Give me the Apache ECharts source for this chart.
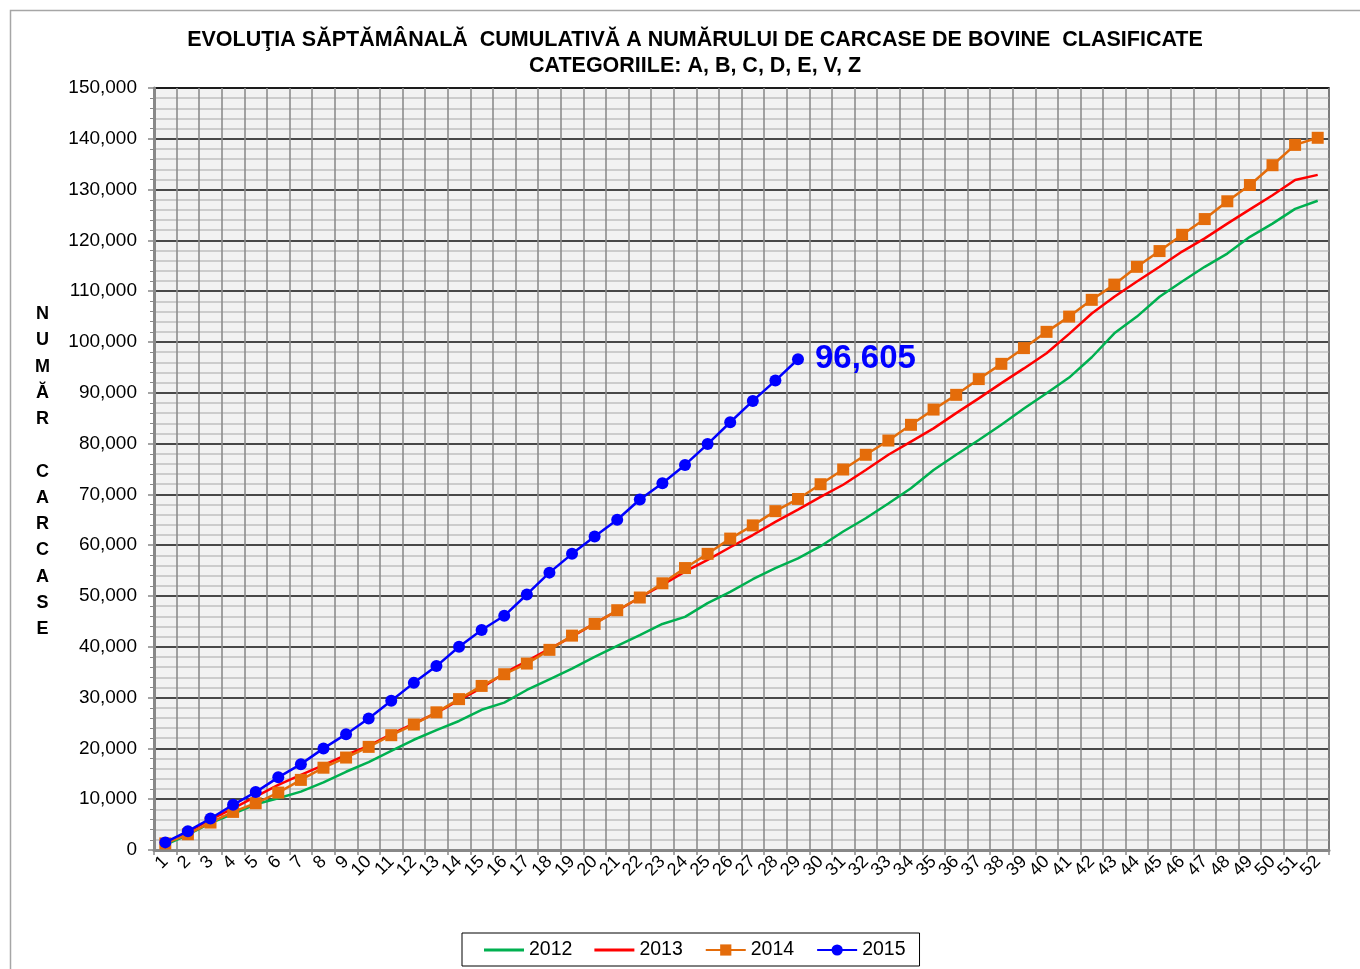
<!DOCTYPE html>
<html>
<head>
<meta charset="utf-8">
<script src="https://cdn.jsdelivr.net/npm/echarts@6/dist/echarts.min.js"></script>
<style>
  html, body { margin: 0; padding: 0; background: #ffffff; }
  #chart { width: 1360px; height: 969px; }
</style>
</head>
<body>
<div id="chart"></div>
<script>
// saptamani 1..52
var saptamani = [];
for (var s = 1; s <= 52; s++) saptamani.push(String(s));

var ani = ['2012', '2013', '2014', '2015'];

var date2012 = [1000, 3000, 5300, 7100, 9000, 10200, 11500, 13300, 15400, 17300,
  19500, 21700, 23600, 25400, 27600, 29000, 31500, 33600, 35700, 38000,
  40200, 42300, 44500, 45900, 48600, 50800, 53300, 55500, 57400, 59800,
  62700, 65300, 68200, 71200, 74800, 77800, 80700, 83700, 86900, 89900,
  93000, 97000, 101700, 105000, 108900, 111900, 114800, 117400, 120700, 123300,
  126200, 127800];

var date2013 = [1300, 3500, 6000, 8200, 10500, 12800, 14800, 16700, 18700, 20500,
  22800, 24900, 27000, 29500, 31900, 34800, 37200, 39600, 42000, 44600,
  47100, 49700, 52200, 54800, 57100, 59600, 62000, 64600, 67000, 69500,
  71900, 74800, 77800, 80400, 83000, 86000, 88900, 91900, 94800, 97800,
  101600, 105600, 108900, 111900, 114800, 117800, 120400, 123300, 126100, 128900,
  131900, 132900];

var date2014 = [1300, 3100, 5400, 7500, 9200, 11300, 13800, 16200, 18200, 20300,
  22600, 24700, 27100, 29700, 32300, 34600, 36700, 39400, 42200, 44500,
  47200, 49700, 52500, 55500, 58300, 61300, 63900, 66700, 69100, 72000,
  74900, 77800, 80600, 83700, 86700, 89600, 92700, 95700, 98800, 102000,
  105000, 108300, 111300, 114800, 117900, 121100, 124200, 127700, 130900, 134800,
  138800, 140200];

var date2015 = [1500, 3700, 6200, 8900, 11400, 14300, 16900, 20000, 22800, 25900,
  29400, 32900, 36200, 40000, 43300, 46100, 50300, 54600, 58300, 61700,
  65000, 69000, 72200, 75800, 79900, 84200, 88400, 92400, 96605];

var culori = ['#00b050', '#ff0000', '#e46c0a', '#0000ff'];

var FONT = 'Liberation Sans, Arial, sans-serif';

function formatNr(v) {
  return String(v).replace(/\B(?=(\d{3})+(?!\d))/g, ',');
}

// ultima valoare 2015 cu eticheta
var serie2015 = date2015.map(function (v, i) {
  if (i === date2015.length - 1) {
    return {
      value: v,
      label: {
        show: true,
        position: 'right',
        distance: 11,
        formatter: function (p) { return formatNr(p.value); },
        color: '#0000ff',
        fontSize: 33,
        fontWeight: 'bold',
        fontFamily: FONT
      }
    };
  }
  return v;
});

var titluAx = 'NUMĂR CARCASE'.split('').join('\n');

// iconita doar linie pentru seriile fara marcaje
var iconLinie = 'path://M0,0 L40,0 L40,3 L0,3 Z';

var chart = echarts.init(document.getElementById('chart'));

chart.setOption({
  backgroundColor: '#ffffff',
  animation: false,
  textStyle: { fontFamily: FONT },
  title: {
    text: 'EVOLUŢIA SĂPTĂMÂNALĂ  CUMULATIVĂ A NUMĂRULUI DE CARCASE DE BOVINE  CLASIFICATE\nCATEGORIILE: A, B, C, D, E, V, Z',
    left: 690,
    textAlign: 'center',
    top: 22,
    textStyle: {
      fontSize: 21.5,
      fontWeight: 'bold',
      color: '#000',
      lineHeight: 26,
      fontFamily: FONT
    }
  },
  graphic: [
    {
      type: 'rect',
      shape: { x: 10.5, y: 10.5, width: 1400, height: 1000 },
      style: { fill: 'none', stroke: '#a6a6a6', lineWidth: 1.5 },
      silent: true
    },
    {
      type: 'text',
      left: 35,
      top: 301,
      style: {
        text: titluAx,
        font: 'bold 18px Liberation Sans, Arial, sans-serif',
        lineHeight: 26.25,
        fill: '#000',
        textAlign: 'center'
      }
    }
  ],
  legend: {
    data: [
      { name: '2012', icon: iconLinie },
      { name: '2013', icon: iconLinie },
      { name: '2014' },
      { name: '2015' }
    ],
    bottom: 3,
    left: 462,
    itemWidth: 40,
    itemHeight: 14,
    itemGap: 22,
    padding: [7, 14, 6, 22],
    borderColor: '#000',
    borderWidth: 1,
    borderRadius: 0,
    textStyle: { fontSize: 19.5, color: '#000' }
  },
  grid: {
    left: 154,
    right: 31,
    top: 88,
    bottom: 119,
    show: true,
    backgroundColor: '#f2f2f2',
    borderColor: '#000',
    borderWidth: 1.5
  },
  xAxis: {
    type: 'category',
    data: saptamani,
    boundaryGap: true,
    axisLine: { lineStyle: { color: '#888888', width: 3 } },
    axisTick: { show: true, interval: 0, length: 5, lineStyle: { color: '#888888', width: 1.5 } },
    splitLine: { show: true, interval: 0, lineStyle: { color: '#8c8c8c', width: 1.6 } },
    axisLabel: {
      interval: 0,
      rotate: 45,
      margin: 9,
      fontSize: 18,
      color: '#000'
    }
  },
  yAxis: {
    type: 'value',
    min: 0,
    max: 150000,
    interval: 10000,
    axisLine: { show: true, lineStyle: { color: '#888888', width: 3 } },
    axisTick: { show: true, length: 6, lineStyle: { color: '#888888', width: 1.5 } },
    minorTick: { show: true, splitNumber: 5, length: 4, lineStyle: { color: '#888888', width: 1 } },
    splitLine: { show: true, lineStyle: { color: '#111', width: 1.6 } },
    minorSplitLine: { show: true, lineStyle: { color: '#bfbfbf', width: 1.6 } },
    axisLabel: {
      margin: 17,
      fontSize: 19,
      color: '#000',
      formatter: function (v) { return formatNr(v); }
    }
  },
  series: [
    {
      name: '2012',
      type: 'line',
      data: date2012,
      symbol: 'none',
      lineStyle: { color: culori[0], width: 2.5 },
      itemStyle: { color: culori[0] },
      z: 2
    },
    {
      name: '2013',
      type: 'line',
      data: date2013,
      symbol: 'none',
      lineStyle: { color: culori[1], width: 2.5 },
      itemStyle: { color: culori[1] },
      z: 3
    },
    {
      name: '2014',
      type: 'line',
      data: date2014,
      symbol: 'rect',
      symbolSize: 12,
      lineStyle: { color: culori[2], width: 2.5 },
      itemStyle: { color: culori[2] },
      z: 4
    },
    {
      name: '2015',
      type: 'line',
      data: serie2015,
      symbol: 'circle',
      symbolSize: 12,
      lineStyle: { color: culori[3], width: 2.5 },
      itemStyle: { color: culori[3] },
      z: 5
    }
  ]
});
</script>
</body>
</html>
